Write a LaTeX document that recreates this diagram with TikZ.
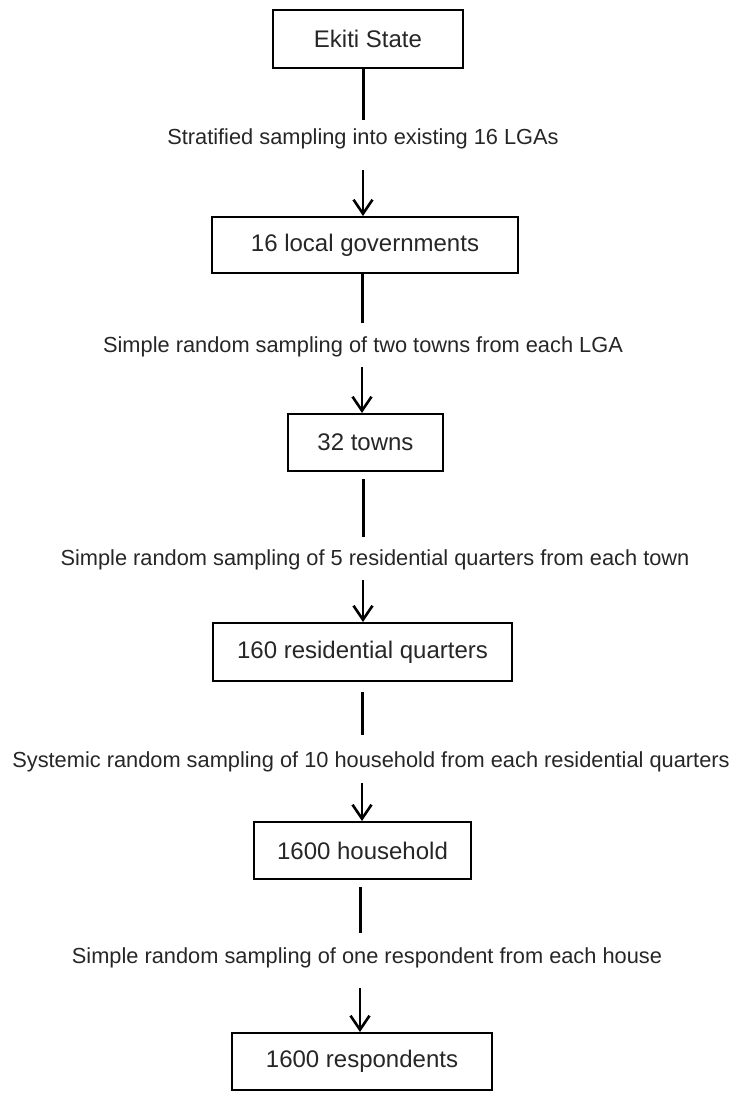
\documentclass[tikz,border=0pt]{standalone}
\usepackage{fontspec}
\setmainfont{Liberation Sans}
\usetikzlibrary{arrows.meta}
\begin{document}
\begin{tikzpicture}[x=1pt,y=-1pt,
  stagebox/.style={draw=black,line width=2pt,minimum height=#1,inner sep=0pt,
    font=\fontsize{24}{28}\selectfont,text=black!85},
  steplabel/.style={inner sep=0pt,font=\fontsize{21.8}{26}\selectfont,text=black!85},
  conn/.style={line width=3pt,draw=black},
  arr/.style={line width=2.6pt,draw=black,-{Straight Barb[length=14pt,width=19pt]}}]
\useasboundingbox (0,0) rectangle (743,1100);
% boxes
\node[stagebox=58pt,minimum width=190pt] (b1) at (368,39) {Ekiti State};
\node[stagebox=56pt,minimum width=306pt] (b2) at (365,245) {16 local governments};
\node[stagebox=57pt,minimum width=155pt] (b3) at (365.5,442.5) {32 towns};
\node[stagebox=58pt,minimum width=299pt] (b4) at (362.5,652) {160 residential quarters};
\node[stagebox=57pt,minimum width=217pt] (b5) at (362.5,850.5) {1600 household};
\node[stagebox=57pt,minimum width=260pt] (b6) at (362,1061.5) {1600 respondents};
% labels
\node[steplabel] (l1) at (363,139) {Stratified sampling into existing 16 LGAs};
\node[steplabel] (l2) at (363,347) {Simple random sampling of two towns from each LGA};
\node[steplabel] (l3) at (375,560) {Simple random sampling of 5 residential quarters from each town};
\node[steplabel] (l4) at (371,762) {Systemic random sampling of 10 household from each residential quarters};
\node[steplabel] (l5) at (367,958) {Simple random sampling of one respondent from each house};
% connector end points
\coordinate (e1) at (363,120); \coordinate (s1) at (363,170);
\coordinate (e2) at (362,323); \coordinate (s2) at (362,367);
\coordinate (e3) at (363,537); \coordinate (s3) at (363,580);
\coordinate (e4) at (362,735); \coordinate (s4) at (362,783);
\coordinate (e5) at (360,933); \coordinate (s5) at (360,988);
% connectors
\draw[conn] (b1.south -| e1) -- (e1);
\draw[arr] (s1) -- (s1 |- b2.north);
\draw[conn] (b2.south -| e2) -- (e2);
\draw[arr] (s2) -- (s2 |- b3.north);
\draw[conn] ([yshift=-7pt]b3.south -| e3) -- (e3);
\draw[arr] (s3) -- (s3 |- b4.north);
\draw[conn] ([yshift=-10pt]b4.south -| e4) -- (e4);
\draw[arr] (s4) -- (s4 |- b5.north);
\draw[conn] ([yshift=-7pt]b5.south -| e5) -- (e5);
\draw[arr] (s5) -- (s5 |- b6.north);
\end{tikzpicture}
\end{document}
